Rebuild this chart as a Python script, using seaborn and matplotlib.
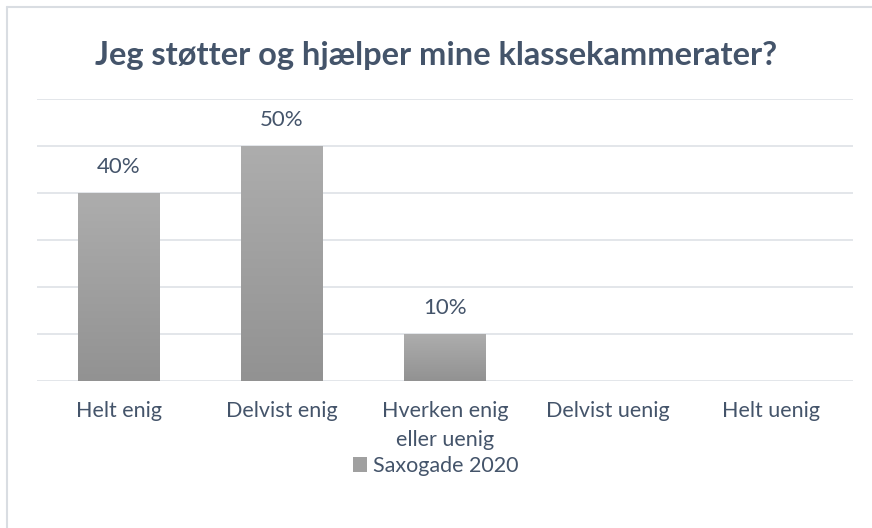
import numpy as np
import pandas as pd
import seaborn as sns
import matplotlib.pyplot as plt
from matplotlib.patches import Rectangle
from matplotlib.lines import Line2D

# Data
categories = ["Helt enig", "Delvist enig", "Hverken enig\neller uenig", "Delvist uenig", "Helt uenig"]
values = [0.40, 0.50, 0.10, 0.0, 0.0]
series_name = "Saxogade 2020"
title = "Jeg støtter og hjælper mine klassekammerater?"

df = pd.DataFrame({"kategori": categories, "andel": values})

text_color = "#44546A"
grid_color = "#E1E4E8"

sns.set_theme(style="white")
plt.rcParams["font.family"] = ["Lato", "DejaVu Sans"]

fig = plt.figure(figsize=(8.72, 5.28), dpi=100)
ax = fig.add_axes([37 / 872, 1 - 381 / 528, (853 - 37) / 872, (381 - 99) / 528])

sns.barplot(data=df, x="kategori", y="andel", color="#A0A0A0", width=0.5,
            saturation=1, ax=ax, zorder=2)

ax.set_ylim(0, 0.6)
ax.set_yticks(np.arange(0, 0.61, 0.1))
ax.yaxis.grid(True, color=grid_color, linewidth=1.3, zorder=0)
ax.set_yticklabels([])
ax.tick_params(axis="y", length=0)
ax.tick_params(axis="x", length=0, pad=14.5, labelsize=15.5, labelcolor=text_color)
for lbl in ax.get_xticklabels():
    lbl.set_linespacing(1.55)
ax.set_xlabel("")
ax.set_ylabel("")
for s in ax.spines.values():
    s.set_visible(False)

# vertical gradient on bars
grad = np.linspace(0, 1, 256).reshape(-1, 1)
cmap = sns.blend_palette(["#929292", "#ADADAD"], as_cmap=True)
for p, v in zip(ax.patches, values):
    if v <= 0:
        p.set_visible(False)
        continue
    x0, w, h = p.get_x(), p.get_width(), p.get_height()
    im = ax.imshow(grad, extent=[x0, x0 + w, 0, h], origin="lower", aspect="auto",
                   cmap=cmap, zorder=3)
    im.set_clip_path(p)
    p.set_alpha(0)
    ax.annotate(f"{v:.0%}", (x0 + w / 2, h), xytext=(0, 19), textcoords="offset points",
                ha="center", va="center", fontsize=16, color=text_color, zorder=4)
ax.set_xlim(-0.5, len(categories) - 0.5)
ax.set_ylim(0, 0.6)

fig.text(0.5, 1 - 56 / 528, title, ha="center", va="center", fontsize=23.5,
         fontweight="bold", color=text_color)

# legend
handle = Rectangle((0, 0), 1, 1, facecolor="#A0A0A0", edgecolor="none")
fig.legend([handle], [series_name], loc="center", bbox_to_anchor=(0.5, 1 - 466 / 528),
           frameon=False, fontsize=15.5, labelcolor=text_color, handlelength=0.65,
           handleheight=0.65, handletextpad=0.3)

# chart frame (left and top edges visible)
fig.add_artist(Line2D([6.5 / 872, 6.5 / 872], [0, 1 - 7 / 528], transform=fig.transFigure,
                      color="#D9DDE2", linewidth=1.5))
fig.add_artist(Line2D([6.5 / 872, 1], [1 - 7 / 528, 1 - 7 / 528], transform=fig.transFigure,
                      color="#D9DDE2", linewidth=1.5))

fig.savefig("out.png", dpi=100)
